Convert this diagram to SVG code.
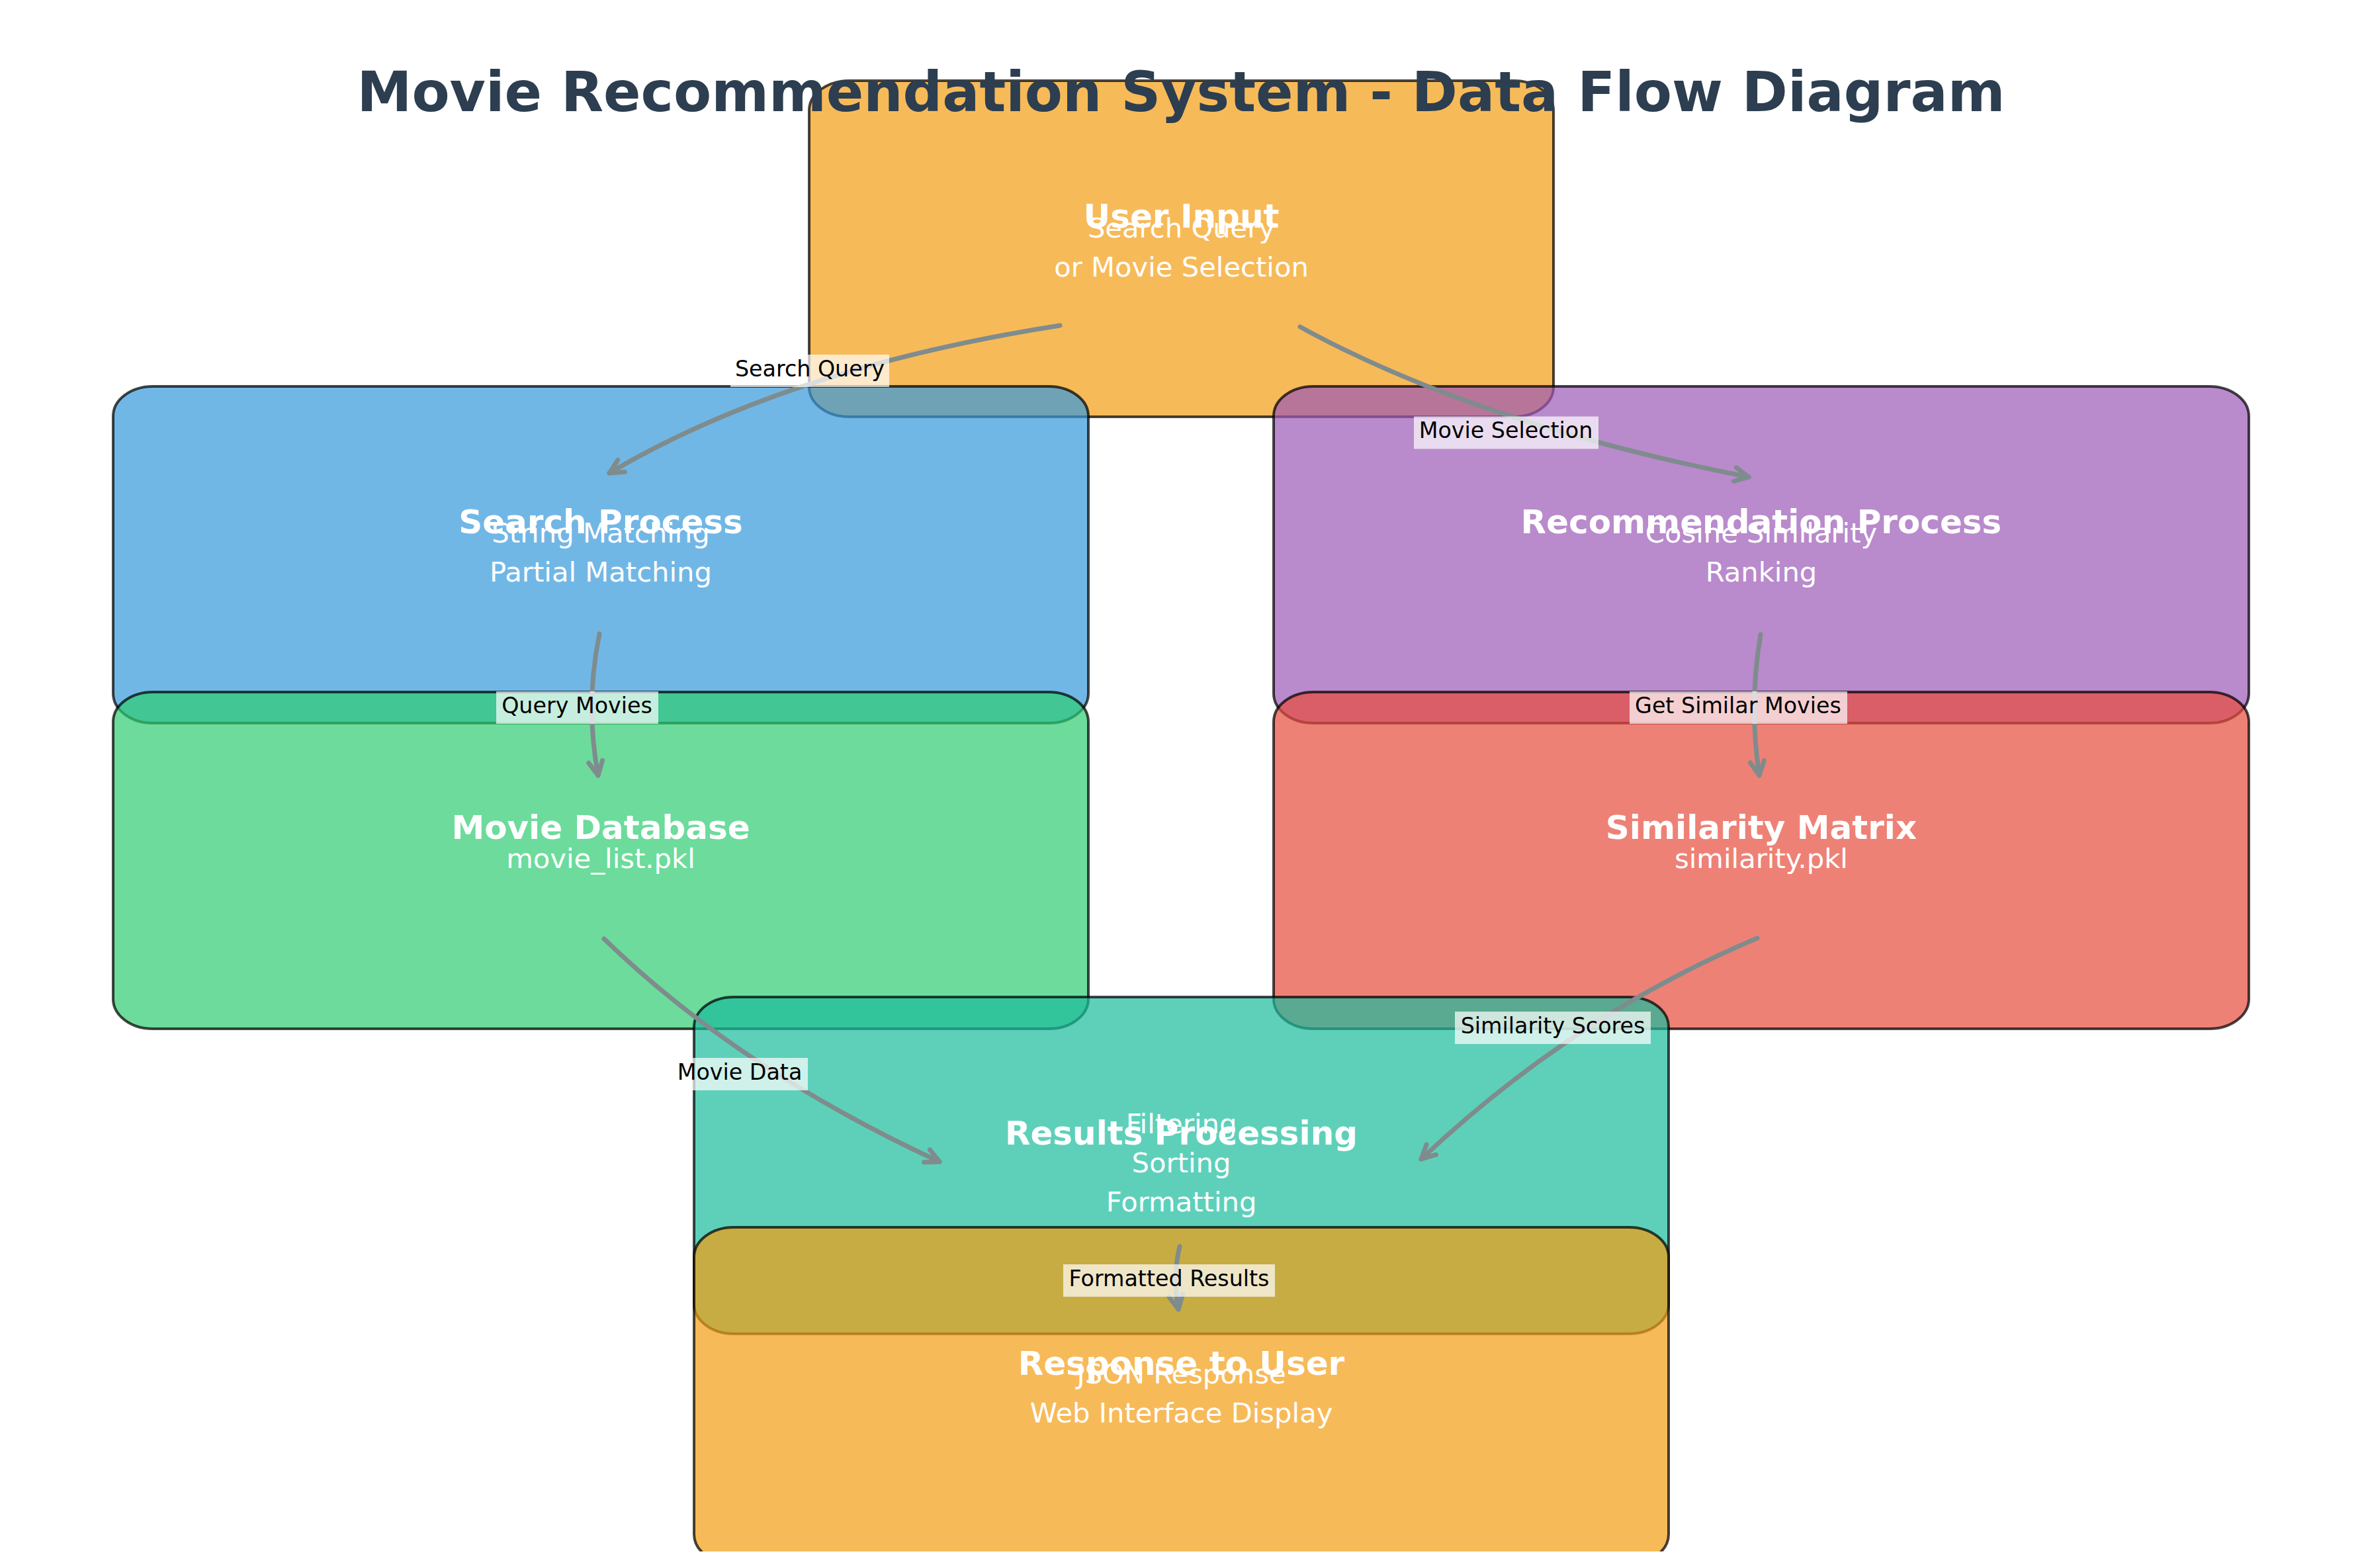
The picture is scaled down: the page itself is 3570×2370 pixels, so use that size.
<svg xmlns="http://www.w3.org/2000/svg" width="3570" height="2370" viewBox="0 0 3570 2370">
<style>
.box{stroke:#000;stroke-opacity:0.72;stroke-width:4;fill-opacity:0.7}
.ttl{font-family:"DejaVu Sans",sans-serif;font-weight:bold;font-size:50px;fill:#fff;text-anchor:middle}
.sub{font-family:"DejaVu Sans",sans-serif;font-size:41.7px;fill:#fff;text-anchor:middle}
.lbl{font-family:"DejaVu Sans",sans-serif;font-size:33.3px;fill:#000;text-anchor:middle}
.lbox{fill:#fff;fill-opacity:0.7}
.arr{fill:none;stroke:#7f8c8d;stroke-width:7;stroke-linecap:round;marker-end:url(#ah)}
</style>
<defs>
<marker id="ah" markerUnits="userSpaceOnUse" viewBox="-30 -15 36 30" refX="0" refY="0" markerWidth="36" markerHeight="30" orient="auto">
<path d="M-21,-10.5 L0,0 L-21,10.5" fill="none" stroke="#7f8c8d" stroke-width="7" stroke-linecap="round" stroke-linejoin="round"/>
</marker>
<clipPath id="clipB"><rect x="0" y="0" width="3570" height="2345"/></clipPath>
</defs>
<rect width="3570" height="2370" fill="#fff"/>

<g id="boxes">
<rect id="box-user-input" class="box" x="1223" y="122" width="1125" height="508" rx="60" ry="45" fill="#f39c12"/>
<rect id="box-search" class="box" x="171" y="584" width="1474" height="509" rx="60" ry="45" fill="#3498db"/>
<rect id="box-recommend" class="box" x="1925" y="584" width="1474" height="509" rx="60" ry="45" fill="#9b59b6"/>
<rect id="box-database" class="box" x="171" y="1046" width="1474" height="509" rx="60" ry="45" fill="#2ecc71"/>
<rect id="box-similarity" class="box" x="1925" y="1046" width="1474" height="509" rx="60" ry="45" fill="#e74c3c"/>
<rect id="box-results" class="box" x="1049" y="1507" width="1473" height="509" rx="60" ry="45" fill="#1abc9c"/>
<rect id="box-response" class="box" x="1049" y="1855" width="1473" height="509" rx="60" ry="45" fill="#f39c12" clip-path="url(#clipB)"/>
</g>

<g id="connectors">
<path class="arr" d="M1602,492 Q1190,556 921,715"/>
<path class="arr" d="M1965,494 Q2230,640 2643,721"/>
<path class="arr" d="M906,958 Q884,1065 904,1172"/>
<path class="arr" d="M2661,959 Q2643,1065 2659,1172"/>
<path class="arr" d="M913,1419 Q1115,1615 1420,1756"/>
<path class="arr" d="M2656,1418 Q2378,1535 2148,1752"/>
<path class="arr" d="M1783,1884 Q1772,1930 1781,1979"/>
</g>

<g id="connector-labels">
<rect class="lbox" x="1104" y="536" width="240" height="49"/>
<text class="lbl" x="1224" y="569">Search Query</text>
<rect class="lbox" x="2137" y="629.5" width="279" height="49"/>
<text class="lbl" x="2276" y="662">Movie Selection</text>
<rect class="lbox" x="750" y="1045" width="245" height="49"/>
<text class="lbl" x="872" y="1078">Query Movies</text>
<rect class="lbox" x="2463" y="1045" width="329" height="49"/>
<text class="lbl" x="2627" y="1078">Get Similar Movies</text>
<rect class="lbox" x="1016" y="1599" width="205" height="49"/>
<text class="lbl" x="1118" y="1632">Movie Data</text>
<rect class="lbox" x="2199" y="1529" width="296" height="49"/>
<text class="lbl" x="2347" y="1562">Similarity Scores</text>
<rect class="lbox" x="1607" y="1911" width="320" height="49"/>
<text class="lbl" x="1767" y="1944">Formatted Results</text>
</g>

<g id="node-user-input">
<text class="ttl" x="1785.5" y="344">User Input</text>
<text class="sub" x="1785.5" y="358.5">Search Query</text>
<text class="sub" x="1785.5" y="417.5">or Movie Selection</text>
</g>
<g id="node-search">
<text class="ttl" x="908" y="806">Search Process</text>
<text class="sub" x="908" y="820">String Matching</text>
<text class="sub" x="908" y="879">Partial Matching</text>
</g>
<g id="node-recommend">
<text class="ttl" x="2662" y="806">Recommendation Process</text>
<text class="sub" x="2662" y="820">Cosine Similarity</text>
<text class="sub" x="2662" y="879">Ranking</text>
</g>
<g id="node-database">
<text class="ttl" x="908" y="1268">Movie Database</text>
<text class="sub" x="908" y="1311.5">movie_list.pkl</text>
</g>
<g id="node-similarity">
<text class="ttl" x="2662" y="1268">Similarity Matrix</text>
<text class="sub" x="2662" y="1311.5">similarity.pkl</text>
</g>
<g id="node-results">
<text class="ttl" x="1785.5" y="1730">Results Processing</text>
<text class="sub" x="1785.5" y="1713">Filtering</text>
<text class="sub" x="1785.5" y="1772">Sorting</text>
<text class="sub" x="1785.5" y="1831">Formatting</text>
</g>
<g id="node-response">
<text class="ttl" x="1785.5" y="2078">Response to User</text>
<text class="sub" x="1785.5" y="2091">JSON Response</text>
<text class="sub" x="1785.5" y="2150">Web Interface Display</text>
</g>

<text id="title" x="1785" y="168" font-family="DejaVu Sans, sans-serif" font-weight="bold" font-size="83.3" fill="#2c3e50" text-anchor="middle">Movie Recommendation System - Data Flow Diagram</text>
</svg>
